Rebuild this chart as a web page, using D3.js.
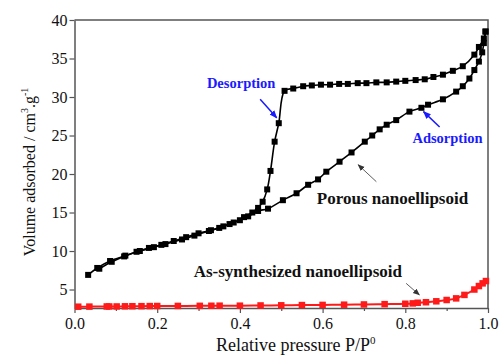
<!DOCTYPE html>
<html>
<head>
    <title>N2 isotherms</title>
    <script src="https://d3js.org/d3.v7.min.js"></script>
    <style>
        body { margin: 0; background: #fff; }
        text { font-family: "Liberation Serif", "Times New Roman", serif; }
    </style>
</head>
<body>
    <div id="chart"></div>
    <script>
// porous nanoellipsoid, adsorption branch
const adsP = [0.033, 0.055, 0.086, 0.123, 0.158, 0.192, 0.22, 0.26, 0.29, 0.325, 0.35, 0.375, 0.4, 0.42, 0.444,
    0.468, 0.504, 0.537, 0.565, 0.589, 0.609, 0.641, 0.67, 0.702, 0.72, 0.738, 0.755, 0.778, 0.81, 0.839, 0.855,
    0.891, 0.923, 0.939, 0.955, 0.967, 0.978, 0.986, 0.99, 0.994];
const adsV = [6.9, 7.8, 8.7, 9.4, 10.0, 10.5, 10.9, 11.5, 12.0, 12.6, 13.0, 13.5, 14.0, 14.5, 15.2,
    15.5, 16.6, 17.5, 18.6, 19.3, 20.3, 21.6, 22.8, 24.2, 25.0, 25.8, 26.4, 27.0, 28.1, 28.6, 29.0,
    29.7, 30.7, 31.4, 32.4, 33.5, 34.6, 35.8, 37.0, 38.5];

// porous nanoellipsoid, desorption branch
const desP = [0.994, 0.99, 0.978, 0.967, 0.939, 0.915, 0.891, 0.868, 0.847, 0.825, 0.80, 0.778, 0.755, 0.73,
    0.706, 0.685, 0.661, 0.64, 0.618, 0.596, 0.574, 0.553, 0.529, 0.508, 0.494, 0.484, 0.474, 0.466, 0.455,
    0.444, 0.43, 0.41, 0.385, 0.36, 0.33, 0.30, 0.27, 0.24, 0.21, 0.18, 0.15, 0.12, 0.09, 0.06];
const desV = [38.5, 37.6, 36.5, 35.5, 34.0, 33.4, 32.9, 32.6, 32.3, 32.2, 32.1, 32.0, 31.9, 31.9,
    31.8, 31.8, 31.7, 31.7, 31.6, 31.6, 31.5, 31.4, 31.1, 30.8, 26.6, 24.2, 20.4, 18.0, 16.4,
    15.6, 15.0, 14.4, 13.7, 13.2, 12.7, 12.3, 11.8, 11.3, 10.8, 10.4, 9.9, 9.3, 8.6, 7.7];

// as-synthesized nanoellipsoid
const redP = [0.009, 0.036, 0.078, 0.084, 0.102, 0.122, 0.14, 0.162, 0.182, 0.2, 0.25, 0.303, 0.331, 0.351,
    0.40, 0.45, 0.5, 0.55, 0.6, 0.652, 0.70, 0.75, 0.80, 0.818, 0.83, 0.85, 0.875, 0.9, 0.923, 0.943,
    0.967, 0.978, 0.987, 0.995];
const redV = [2.77, 2.78, 2.8, 2.8, 2.8, 2.82, 2.83, 2.84, 2.85, 2.86, 2.87, 2.88, 2.89, 2.9,
    2.9, 2.93, 2.95, 2.98, 3.0, 3.03, 3.06, 3.1, 3.15, 3.2, 3.28, 3.35, 3.47, 3.64, 3.85, 4.3,
    5.0, 5.45, 5.8, 6.1];

const xTicks = [0.0, 0.2, 0.4, 0.6, 0.8, 1.0];
const yTicks = [5, 10, 15, 20, 25, 30, 35, 40];

const width = 499;
const height = 356;
const margin = { top: 20, right: 11, bottom: 48, left: 74.5 };

const svg = d3.select('#chart')
    .append('svg')
    .attr('width', width)
    .attr('height', height);

const x = d3.scaleLinear().domain([0, 1]).range([margin.left, width - margin.right]);
const y = d3.scaleLinear().domain([2.6, 40]).range([height - margin.bottom, margin.top]);

const defs = svg.append('defs');
function arrowHead(id, color, size) {
    defs.append('marker')
        .attr('id', id)
        .attr('viewBox', '0 0 10 10')
        .attr('refX', 9).attr('refY', 5)
        .attr('markerWidth', size).attr('markerHeight', size)
        .attr('markerUnits', 'userSpaceOnUse')
        .attr('orient', 'auto')
        .append('path')
        .attr('d', 'M0,1 L10,5 L0,9 z')
        .attr('fill', color);
}
arrowHead('blueArrow', '#1a1aff', 8);
arrowHead('greyArrow', '#333', 7);

// axes
const axisColor = '#555';
const xAxis = svg.append('g')
    .attr('transform', `translate(0,${y.range()[0]})`)
    .call(d3.axisBottom(x).tickValues(d3.range(0, 1.01, 0.1)).tickSize(4).tickFormat(d => {
        const v = Math.round(d * 10) / 10;
        return xTicks.some(t => Math.abs(t - v) < 1e-6) ? v.toFixed(1) : '';
    }).tickSizeOuter(0));
xAxis.selectAll('.tick line').attr('y2', (d, i) => i % 2 === 0 ? 5 : 3);

const yAxis = svg.append('g')
    .attr('transform', `translate(${x.range()[0]},0)`)
    .call(d3.axisLeft(y).tickValues(yTicks).tickSize(5).tickSizeOuter(0));

[xAxis, yAxis].forEach(g => {
    g.select('.domain').attr('stroke', axisColor).attr('stroke-width', 1.5);
    g.selectAll('.tick line').attr('stroke', axisColor).attr('stroke-width', 1.2);
    g.selectAll('.tick text').attr('fill', '#111').style('font-size', '16px')
        .style('font-family', '"Liberation Serif", serif');
});
xAxis.selectAll('.tick text').attr('dy', '0.85em');
yAxis.selectAll('.tick text').attr('x', -7);

// frame top / right
svg.append('path')
    .attr('d', `M${x(0)},${y(40)} H${x(1)} V${y.range()[0]}`)
    .attr('fill', 'none')
    .attr('stroke', axisColor)
    .attr('stroke-width', 1.5);

// series
const line = d3.line().x(d => x(d[0])).y(d => y(d[1])).curve(d3.curveCatmullRom.alpha(0.5));

function drawSeries(ps, vs, color, lw, size) {
    const pts = ps.map((p, i) => [p, vs[i]]);
    svg.append('path')
        .datum(pts)
        .attr('d', line)
        .attr('fill', 'none')
        .attr('stroke', color)
        .attr('stroke-width', lw);
    svg.append('g')
        .selectAll('rect')
        .data(pts)
        .enter()
        .append('rect')
        .attr('x', d => x(d[0]) - size / 2)
        .attr('y', d => y(d[1]) - size / 2)
        .attr('width', size)
        .attr('height', size)
        .attr('fill', color);
}

drawSeries(redP, redV, '#ff1a1a', 2, 6.5);
drawSeries(adsP, adsV, '#000', 1.6, 6);
drawSeries(desP, desV, '#000', 1.6, 6);

// annotations (positions in data units)
const notes = [
    { text: 'Desorption', p: 0.403, v: 31.2, color: '#1a1aff', size: 14.5, from: [0.449, 29.7], to: [0.489, 27.3], arrow: 'blueArrow', aw: 1.5 },
    { text: 'Adsorption', p: 0.902, v: 24.0, color: '#1a1aff', size: 14.5, from: [0.883, 26.1], to: [0.844, 28.1], arrow: 'blueArrow', aw: 1.5 },
    { text: 'Porous nanoellipsoid', p: 0.769, v: 16.1, color: '#111', size: 17, from: [0.73, 19.0], to: [0.686, 21.2], arrow: 'greyArrow', aw: 0.8 },
    { text: 'As-synthesized nanoellipsoid', p: 0.54, v: 6.6, color: '#111', size: 17, from: [0.802, 5.8], to: [0.834, 4.3], arrow: 'greyArrow', aw: 0.8 }
];

svg.append('g')
    .selectAll('text')
    .data(notes)
    .enter()
    .append('text')
    .attr('x', d => x(d.p))
    .attr('y', d => y(d.v))
    .attr('text-anchor', 'middle')
    .attr('fill', d => d.color)
    .style('font-weight', 'bold')
    .style('font-size', d => d.size + 'px')
    .text(d => d.text);

svg.append('g')
    .selectAll('line')
    .data(notes)
    .enter()
    .append('line')
    .attr('x1', d => x(d.from[0]))
    .attr('y1', d => y(d.from[1]))
    .attr('x2', d => x(d.to[0]))
    .attr('y2', d => y(d.to[1]))
    .attr('stroke', d => d.color === '#111' ? '#333' : d.color)
    .attr('stroke-width', d => d.aw)
    .attr('marker-end', d => `url(#${d.arrow})`);

// axis titles
const xt = svg.append('text')
    .attr('x', x(0.535))
    .attr('y', 351)
    .attr('text-anchor', 'middle')
    .style('font-size', '18px')
    .attr('fill', '#111');
xt.append('tspan').text('Relative pressure P/P');
xt.append('tspan').attr('dy', -7).style('font-size', '11px').text('0');

const yt = svg.append('text')
    .attr('transform', `translate(35,172) rotate(-90)`)
    .attr('text-anchor', 'middle')
    .style('font-size', '16px')
    .attr('fill', '#111');
yt.append('tspan').text('Volume adsorbed / cm');
yt.append('tspan').attr('dy', -7).style('font-size', '10px').text('3');
yt.append('tspan').attr('dy', 7).text('.g');
yt.append('tspan').attr('dy', -7).style('font-size', '10px').text('-1');
    </script>
</body>
</html>
